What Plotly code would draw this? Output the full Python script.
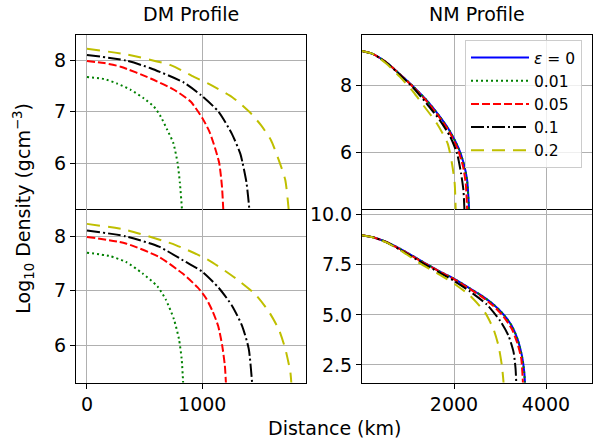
import plotly.graph_objects as go
from plotly.subplots import make_subplots

# ---------------- data ----------------
labels = ["<i>ε</i> = 0", "0.01", "0.05", "0.1", "0.2"]

# DM profile, top panel
dm_top_x_001 = [0, 147, 263, 379, 494, 581, 639, 696, 749, 786, 806, 824, 830]
dm_top_y_001 = [7.68, 7.64, 7.55, 7.43, 7.26, 7.10, 6.91, 6.65, 6.39, 6.00, 5.61, 5.10, 4.90]
dm_top_x_005 = [0, 150, 292, 552, 755, 899, 1000, 1061, 1110, 1147, 1171, 1182, 1186]
dm_top_y_005 = [7.99, 7.95, 7.88, 7.65, 7.43, 7.20, 6.88, 6.62, 6.30, 6.00, 5.54, 5.10, 4.90]
dm_top_x_01 = [0, 338, 552, 841, 986, 1142, 1257, 1329, 1350, 1384, 1408, 1412]
dm_top_y_01 = [8.11, 8.00, 7.85, 7.57, 7.33, 7.00, 6.57, 6.19, 6.00, 5.61, 5.10, 4.90]
dm_top_x_02 = [0, 338, 726, 928, 1061, 1263, 1408, 1509, 1595, 1673, 1720, 1749, 1754]
dm_top_y_02 = [8.23, 8.12, 7.91, 7.68, 7.54, 7.28, 7.00, 6.74, 6.45, 6.00, 5.67, 5.10, 4.90]

# DM profile, bottom panel
dm_bot_x_001 = [0, 193, 337, 481, 611, 683, 755, 798, 821, 833, 836]
dm_bot_y_001 = [7.70, 7.64, 7.53, 7.32, 7.08, 6.84, 6.47, 6.11, 5.75, 5.35, 5.20]
dm_bot_x_005 = [0, 337, 625, 827, 960, 1030, 1090, 1138, 1173, 1196, 1205, 1208]
dm_bot_y_005 = [7.99, 7.87, 7.62, 7.32, 7.06, 6.87, 6.62, 6.35, 5.99, 5.62, 5.31, 5.20]
dm_bot_x_01 = [0, 337, 625, 856, 1000, 1144, 1259, 1346, 1403, 1432, 1435]
dm_bot_y_01 = [8.11, 8.00, 7.81, 7.53, 7.35, 7.05, 6.72, 6.35, 5.93, 5.31, 5.20]
dm_bot_x_02 = [0, 337, 769, 1058, 1288, 1461, 1576, 1663, 1720, 1764, 1772, 1775]
dm_bot_y_02 = [8.23, 8.12, 7.84, 7.56, 7.23, 6.93, 6.62, 6.29, 5.93, 5.50, 5.31, 5.20]

# NM profile, top panel
nm_top_x_0 = [0, 241, 533, 825, 1117, 1409, 1701, 1920, 2102, 2212, 2285, 2328, 2335]
nm_top_y_0 = [9.02, 8.93, 8.68, 8.33, 7.96, 7.55, 7.05, 6.61, 6.12, 5.67, 5.18, 4.32, 4.10]
nm_top_x_001 = [0, 241, 533, 825, 1117, 1409, 1701, 1920, 2100, 2210, 2282, 2325, 2332]
nm_top_y_001 = [9.02, 8.93, 8.68, 8.33, 7.96, 7.55, 7.05, 6.61, 6.12, 5.67, 5.18, 4.32, 4.10]
nm_top_x_005 = [0, 241, 533, 825, 1117, 1409, 1701, 1920, 2088, 2197, 2255, 2285, 2290]
nm_top_y_005 = [9.02, 8.93, 8.68, 8.32, 7.94, 7.52, 7.01, 6.56, 6.07, 5.58, 5.08, 4.32, 4.10]
nm_top_x_01 = [0, 241, 533, 825, 1117, 1409, 1701, 1920, 2066, 2153, 2204, 2226, 2230]
nm_top_y_01 = [9.02, 8.93, 8.67, 8.31, 7.92, 7.45, 6.94, 6.46, 5.97, 5.38, 4.89, 4.32, 4.10]
nm_top_x_02 = [0, 241, 533, 825, 1117, 1336, 1628, 1861, 1956, 2015, 2036, 2040]
nm_top_y_02 = [9.02, 8.93, 8.64, 8.25, 7.80, 7.40, 6.86, 6.27, 5.67, 5.08, 4.32, 4.10]

# NM profile, bottom panel
nm_bot_x_0 = [0, 240, 531, 822, 1113, 1404, 1695, 1985, 2276, 2567, 2858, 3076, 3258, 3382, 3476, 3527, 3542, 3546]
nm_bot_y_0 = [8.98, 8.88, 8.64, 8.31, 7.93, 7.54, 7.16, 6.83, 6.42, 6.01, 5.52, 5.02, 4.45, 3.79, 2.97, 2.15, 1.63, 1.40]
nm_bot_x_001 = [0, 240, 531, 822, 1113, 1404, 1695, 1985, 2276, 2567, 2858, 3076, 3258, 3382, 3474, 3524, 3539, 3543]
nm_bot_y_001 = [8.98, 8.88, 8.64, 8.31, 7.93, 7.54, 7.16, 6.83, 6.42, 6.01, 5.52, 5.02, 4.45, 3.79, 2.97, 2.15, 1.63, 1.40]
nm_bot_x_005 = [0, 240, 531, 822, 1404, 1985, 2276, 2567, 2858, 3076, 3258, 3382, 3462, 3498, 3502]
nm_bot_y_005 = [8.98, 8.88, 8.64, 8.29, 7.52, 6.80, 6.39, 5.96, 5.44, 4.91, 4.29, 3.55, 2.81, 1.63, 1.40]
nm_bot_x_01 = [0, 240, 531, 822, 1404, 1985, 2349, 2713, 3004, 3185, 3295, 3338, 3353, 3356]
nm_bot_y_01 = [8.98, 8.88, 8.63, 8.26, 7.47, 6.72, 6.17, 5.52, 4.70, 3.96, 3.14, 2.32, 1.63, 1.40]
nm_bot_x_02 = [0, 240, 531, 895, 1258, 1695, 2058, 2349, 2676, 2858, 2967, 3040, 3076, 3079]
nm_bot_y_02 = [8.98, 8.87, 8.62, 8.14, 7.57, 7.00, 6.47, 5.96, 5.11, 4.29, 3.46, 2.48, 1.63, 1.40]

# tick labels
dm_x_ticks = [0, 1000]
nm_x_ticks = [2000, 4000]
dm_y_ticks = [6, 7, 8]
nm_top_y_ticks = [6, 8]
nm_bot_y_ticks = [2.5, 5.0, 7.5, 10.0]
nm_bot_y_ticktext = ["2.5", "5.0", "7.5", "10.0"]

# ---------------- styles ----------------
colors = ["#0000ff", "#008000", "#ff0000", "#000000", "#bfbf00"]
dash_styles = ["solid", "2px,3px", "8px,3px", "13px,3px,2px,3px", "13px,8px"]
FONT = "DejaVu Sans"

fig = make_subplots(rows=2, cols=2)

panels = [
    (1, 2, [(0, nm_top_x_0, nm_top_y_0), (1, nm_top_x_001, nm_top_y_001), (2, nm_top_x_005, nm_top_y_005),
            (3, nm_top_x_01, nm_top_y_01), (4, nm_top_x_02, nm_top_y_02)], True),
    (1, 1, [(1, dm_top_x_001, dm_top_y_001), (2, dm_top_x_005, dm_top_y_005),
            (3, dm_top_x_01, dm_top_y_01), (4, dm_top_x_02, dm_top_y_02)], False),
    (2, 1, [(1, dm_bot_x_001, dm_bot_y_001), (2, dm_bot_x_005, dm_bot_y_005),
            (3, dm_bot_x_01, dm_bot_y_01), (4, dm_bot_x_02, dm_bot_y_02)], False),
    (2, 2, [(0, nm_bot_x_0, nm_bot_y_0), (1, nm_bot_x_001, nm_bot_y_001), (2, nm_bot_x_005, nm_bot_y_005),
            (3, nm_bot_x_01, nm_bot_y_01), (4, nm_bot_x_02, nm_bot_y_02)], False),
]

for row, col, curves, show in panels:
    for k, xs, ys in curves:
        fig.add_trace(go.Scatter(
            x=xs, y=ys, mode="lines", name=labels[k],
            line=dict(color=colors[k], width=2, dash=dash_styles[k], shape="spline", smoothing=0.6),
            showlegend=show,
        ), row=row, col=col)

axis_common = dict(showline=True, mirror=True, linecolor="black", linewidth=1,
                   showgrid=True, gridcolor="#b0b0b0", gridwidth=1, zeroline=False,
                   ticks="outside", ticklen=5, tickwidth=1, tickcolor="black",
                   tickfont=dict(family=FONT, size=19, color="black"))

xl = [76 / 600, 305.7 / 600]
xr = [362 / 600, 592 / 600]
yt = [1 - 206 / 442, 1 - 29.3 / 442]
yb = [1 - 381.7 / 442, 1 - 206 / 442]

fig.update_xaxes(axis_common)
fig.update_yaxes(axis_common)

fig.update_xaxes(domain=xl, range=[-95, 1897], tickvals=dm_x_ticks, showticklabels=False, ticks="", row=1, col=1)
fig.update_xaxes(domain=xl, range=[-95, 1897], tickvals=dm_x_ticks, mirror=False, row=2, col=1)
fig.update_xaxes(domain=xr, range=[0, 5000], tickvals=nm_x_ticks, showticklabels=False, ticks="", row=1, col=2)
fig.update_xaxes(domain=xr, range=[0, 5000], tickvals=nm_x_ticks, mirror=False, row=2, col=2)

fig.update_yaxes(domain=yt, range=[5.10, 8.5], tickvals=dm_y_ticks, row=1, col=1)
fig.update_yaxes(domain=yb, range=[5.31, 8.5], tickvals=dm_y_ticks, row=2, col=1)
fig.update_yaxes(domain=yt, range=[4.31, 9.5], tickvals=nm_top_y_ticks, row=1, col=2)
fig.update_yaxes(domain=yb, range=[1.62, 10.28], tickvals=nm_bot_y_ticks, ticktext=nm_bot_y_ticktext, row=2, col=2)

annots = [
    dict(text="DM Profile", x=(xl[0] + xl[1]) / 2, y=1 - 8 / 442),
    dict(text="NM Profile", x=(xr[0] + xr[1]) / 2, y=1 - 8 / 442),
    dict(text="Distance (km)", x=334 / 600, y=1 - 428 / 442),
    dict(text="Log<sub>10</sub> Density (gcm<sup>−3</sup>)", x=24 / 600, y=1 - 205.5 / 442, textangle=-90),
]
for a in annots:
    fig.add_annotation(xref="paper", yref="paper", showarrow=False,
                       xanchor="center", yanchor="middle",
                       font=dict(family=FONT, size=19, color="black"), **a)

fig.update_layout(
    width=600, height=442,
    margin=dict(l=0, r=0, t=0, b=0),
    paper_bgcolor="white", plot_bgcolor="white",
    font=dict(family=FONT, color="black"),
    legend=dict(x=582 / 600, y=1 - 34.5 / 442, xanchor="right", yanchor="top",
                bgcolor="rgba(255,255,255,0.8)", bordercolor="#cccccc", borderwidth=1,
                font=dict(family=FONT, size=15.5, color="black"),
                itemwidth=58),
)

fig.write_html("out.html", config={"displayModeBar": False},
               post_script="document.body.style.margin='0';document.body.style.overflow='hidden';")
